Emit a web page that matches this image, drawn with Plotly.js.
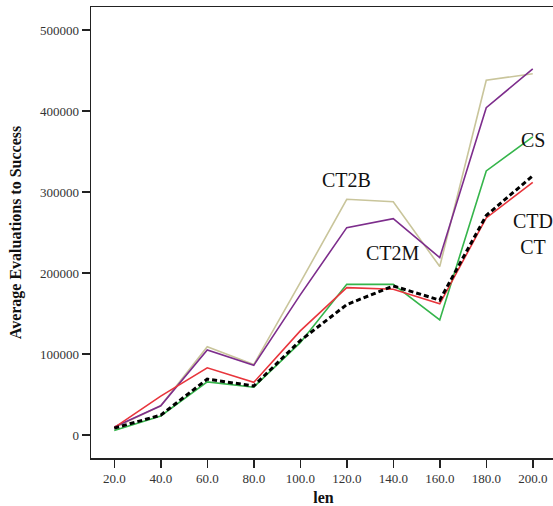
<!DOCTYPE html>
<html>
<head>
<meta charset="utf-8">
<script src="https://cdn.plot.ly/plotly-3.0.1.min.js"></script>
<style>
html,body{margin:0;padding:0;overflow:hidden;background:#fff;}
#chart{width:560px;height:506px;}
</style>
</head>
<body>
<div id="chart"></div>
<script>
const lens = [20, 40, 60, 80, 100, 120, 140, 160, 180, 200];
const ct2b = [9000, 36000, 109000, 87000, 188000, 291000, 288000, 208000, 438000, 446000];
const ct2m = [10000, 36000, 105000, 86000, 173000, 256000, 267000, 219000, 404000, 452000];
const cs   = [5500, 23500, 65500, 59000, 114000, 186000, 186000, 142000, 326000, 368000];
const ct   = [9000, 48000, 83000, 65000, 128500, 182000, 180000, 162000, 268000, 312000];
const ctd  = [8500, 24500, 69000, 60500, 116500, 161000, 184000, 166500, 271000, 320000];
const xTickVals = [20, 40, 60, 80, 100, 120, 140, 160, 180, 200];
const xTickText = ["20.0","40.0","60.0","80.0","100.0","120.0","140.0","160.0","180.0","200.0"];
const yTickVals = [0, 100000, 200000, 300000, 400000, 500000];
const yTickText = ["0","100000","200000","300000","400000","500000"];
const labelNames = ["CT2B", "CT2M", "CS", "CTD<br>CT"];
const labelX = [120, 140, 200, 200];
const labelY = [314800, 225300, 364800, 248700];

const serif = "'Liberation Serif', 'Times New Roman', Times, serif";
const traces = [
  {x: lens, y: ct2b, name: "CT2B", mode: "lines", line: {color: "#c9c59b", width: 1.6}},
  {x: lens, y: ct2m, name: "CT2M", mode: "lines", line: {color: "#7d2d8c", width: 1.6}},
  {x: lens, y: cs, name: "CS", mode: "lines", line: {color: "#35b54b", width: 1.6}},
  {x: lens, y: ct, name: "CT", mode: "lines", line: {color: "#e8353c", width: 1.6}},
  {x: lens, y: ctd, name: "CTD", mode: "lines", line: {color: "#000000", width: 3, dash: "5px,3px"}}
];
const annotations = labelNames.map((t, i) => ({
  x: labelX[i], y: labelY[i], xref: "x", yref: "y", text: t, showarrow: false,
  xanchor: "center", yanchor: "middle", align: "center",
  font: {family: serif, size: 20, color: "#111"}
}));
const layout = {
  width: 560, height: 506,
  margin: {l: 91, r: 4, t: 7, b: 48},
  showlegend: false,
  paper_bgcolor: "#fff", plot_bgcolor: "#fff",
  font: {family: serif, color: "#333"},
  xaxis: {
    range: [10, 210], tickvals: xTickVals, ticktext: xTickText,
    showgrid: false, zeroline: false, showline: true, mirror: true,
    linecolor: "#222", linewidth: 1.5, ticks: "outside", ticklen: 8, tickwidth: 1.5, tickcolor: "#222",
    tickfont: {family: serif, size: 13, color: "#333"},
    title: {text: "<b>len</b>", font: {family: serif, size: 16, color: "#111"}, standoff: 8}
  },
  yaxis: {
    range: [-28400, 528400], tickvals: yTickVals, ticktext: yTickText,
    showgrid: false, zeroline: false, showline: true, mirror: true,
    linecolor: "#222", linewidth: 1.5, ticks: "outside", ticklen: 8, tickwidth: 1.5, tickcolor: "#222",
    tickfont: {family: serif, size: 13, color: "#333"},
    title: {text: "<b>Average Evaluations to Success</b>", font: {family: serif, size: 16, color: "#111"}, standoff: 14}
  },
  annotations: annotations
};
Plotly.newPlot("chart", traces, layout, {displayModeBar: false, staticPlot: true});
</script>
</body>
</html>
